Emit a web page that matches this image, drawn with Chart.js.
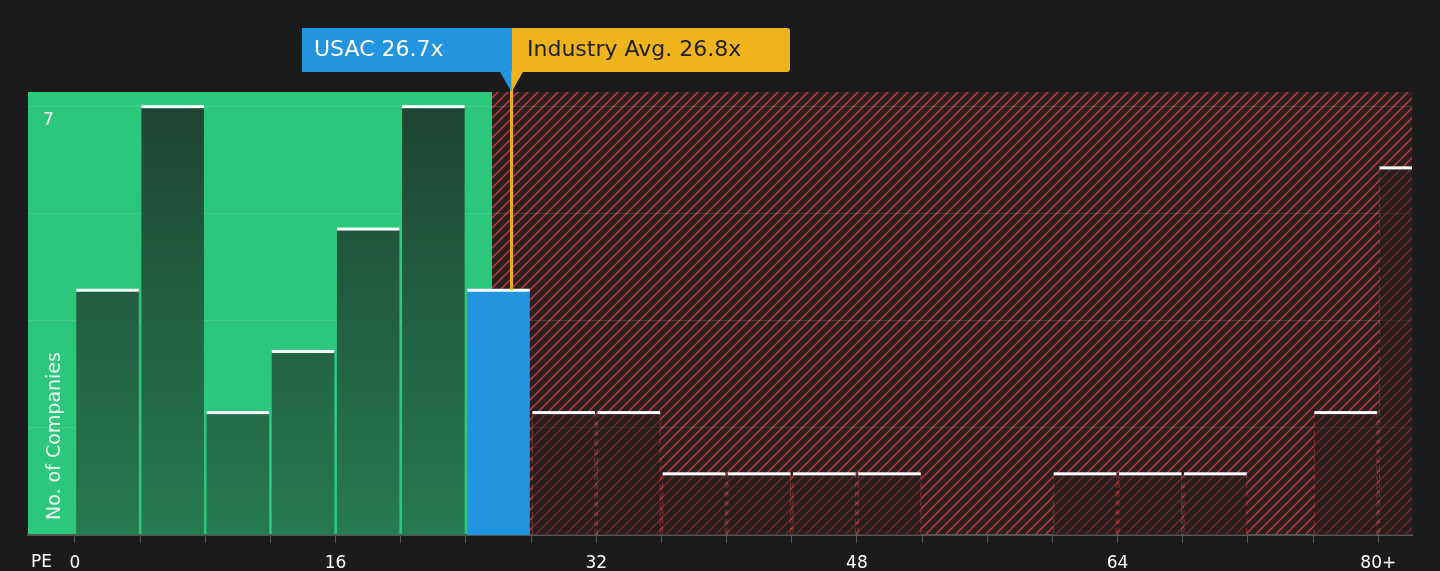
<!DOCTYPE html>
<html><head><meta charset="utf-8">
<script src="https://cdn.jsdelivr.net/npm/chart.js@4"></script>
<style>html,body{margin:0;background:#1b1b1b}#wrap{width:1440px;height:571px}</style>
</head><body><div id="wrap"><canvas id="c"></canvas></div>
<script>
// PE bins (bin centers) and company counts
const binCenters = [2, 6, 10, 14, 18, 22, 26, 30, 34, 38, 42, 46, 50, 54, 58, 62, 66, 70, 74, 78, 82];
const counts     = [4, 7, 2, 3, 5, 7, 4, 2, 2, 1, 1, 1, 1, 0, 0, 1, 1, 1, 0, 2, 6];
const companyPE = 26.7;
const industryPE = 26.8;
const fairEdge = 25.6;
const xTicks = [0, 16, 32, 48, 64, 80];

const ctx = document.getElementById('c').getContext('2d');

function hatch() {
    const p = document.createElement('canvas');
    p.width = 10; p.height = 10;
    const g = p.getContext('2d');
    g.fillStyle = '#2c1f20';
    g.fillRect(0, 0, 10, 10);
    g.strokeStyle = '#c43d40';
    g.lineWidth = 1.4;
    g.beginPath();
    g.moveTo(0, 10); g.lineTo(10, 0);
    g.moveTo(-5, 5); g.lineTo(5, -5);
    g.moveTo(5, 15); g.lineTo(15, 5);
    g.stroke();
    return ctx.createPattern(p, 'repeat');
}

const bgPlugin = {
    id: 'bg',
    beforeDraw(chart) {
        const { ctx, chartArea: a, scales: { x } } = chart;
        const edge = x.getPixelForValue(fairEdge);
        ctx.save();
        ctx.fillStyle = '#2dc77c';
        ctx.fillRect(a.left, a.top, edge - a.left, a.bottom - a.top);
        ctx.fillStyle = hatch();
        ctx.fillRect(edge, a.top, a.right - edge, a.bottom - a.top);
        ctx.restore();
    },
    afterDatasetsDraw(chart) {
        const { ctx, chartArea: a, scales: { x, y } } = chart;
        const meta = chart.getDatasetMeta(0);
        ctx.save();
        ctx.beginPath(); ctx.rect(a.left, 0, a.right - a.left, a.bottom); ctx.clip();
        meta.data.forEach((bar, i) => {
            const left = bar.x - bar.width / 2, right = bar.x + bar.width / 2;
            if (binCenters[i] > 26) {
                ctx.strokeStyle = 'rgba(200,60,60,0.6)';
                ctx.setLineDash([5, 4]);
                ctx.lineWidth = 1;
                [left, right].forEach(px => {
                    ctx.beginPath(); ctx.moveTo(px, bar.y); ctx.lineTo(px, a.bottom); ctx.stroke();
                });
                ctx.setLineDash([]);
            }
            if (counts[i] > 0) {
                ctx.fillStyle = '#ffffff';
                ctx.fillRect(left, bar.y - 1.5, bar.width, 3);
            }
        });
        ctx.restore();
        ctx.save();
        // industry line
        const ix = x.getPixelForValue(industryPE);
        ctx.strokeStyle = '#f0b01e';
        ctx.lineWidth = 3;
        ctx.beginPath(); ctx.moveTo(ix, 72); ctx.lineTo(ix, y.getPixelForValue(4)); ctx.stroke();
        // labels
        ctx.fillStyle = '#2394e0';
        ctx.fillRect(302, 28, ix - 302, 44);
        ctx.beginPath(); ctx.moveTo(ix - 12, 71); ctx.lineTo(ix, 71); ctx.lineTo(ix, 92); ctx.fill();
        ctx.fillStyle = '#efb31c';
        ctx.beginPath(); ctx.roundRect(ix, 28, 790 - ix, 44, [0, 3, 3, 0]); ctx.fill();
        ctx.beginPath(); ctx.moveTo(ix, 71); ctx.lineTo(ix + 12, 71); ctx.lineTo(ix, 92); ctx.fill();
        ctx.font = '22px "DejaVu Sans"';
        ctx.textBaseline = 'middle';
        ctx.fillStyle = '#ffffff';
        ctx.fillText('USAC ' + companyPE + 'x', 314, 50);
        ctx.fillStyle = '#222222';
        ctx.fillText('Industry Avg. ' + industryPE + 'x', 527, 50);
        // axis texts
        ctx.fillStyle = '#ffffff';
        ctx.font = '17px "DejaVu Sans"';
        ctx.fillText('7', 43, 121);
        ctx.fillText('PE', 31, 563);
        ctx.save();
        ctx.translate(55, 520);
        ctx.rotate(-Math.PI / 2);
        ctx.font = '19px "DejaVu Sans"';
        ctx.fillStyle = 'rgba(255,255,255,0.9)';
        ctx.fillText('No. of Companies', 0, 0);
        ctx.restore();
        ctx.restore();
    }
};

function barColor(c) {
    const i = c.dataIndex;
    const a = c.chart.chartArea;
    if (binCenters[i] === 26) return '#2394e0';
    if (binCenters[i] > 26) return 'rgba(40,30,30,0.55)';
    if (!a) return '#22503a';
    const g = c.chart.ctx.createLinearGradient(0, a.top, 0, a.bottom);
    g.addColorStop(0, '#1f4433');
    g.addColorStop(1, '#267a52');
    return g;
}

new Chart(ctx, {
    type: 'bar',
    data: {
        datasets: [{
            data: binCenters.map((v, i) => ({ x: v, y: counts[i] })),
            backgroundColor: barColor,
            barPercentage: 0.96,
            categoryPercentage: 1,
            borderWidth: 0
        }]
    },
    options: {
        responsive: true,
        maintainAspectRatio: false,
        animation: false,
        layout: { padding: { left: 28, right: 28, top: 92, bottom: 0 } },
        plugins: { legend: { display: false }, tooltip: { enabled: false } },
        scales: {
            x: {
                type: 'linear',
                offset: false,
                min: -2.88,
                max: 82.07,
                afterBuildTicks(s) { s.ticks = []; for (let v = 0; v <= 80; v += 4) s.ticks.push({ value: v }); },
                afterFit(s) { s.height = 36; },
                ticks: {
                    autoSkip: false, maxRotation: 0, color: '#ffffff', font: { size: 17, family: 'DejaVu Sans' }, padding: 10,
                    callback: v => v === 80 ? '80+' : (v % 16 === 0 ? v : '')
                },
                grid: { drawOnChartArea: false, color: '#555', tickLength: 8, offset: false },
                border: { color: '#555', width: 2 }
            },
            y: {
                min: 0,
                max: 7.24,
                afterBuildTicks(s) { s.ticks = [1.75, 3.5, 5.25, 7].map(v => ({ value: v })); },
                ticks: { display: false },
                grid: { color: 'rgba(255,255,255,0.12)', drawTicks: false },
                border: { display: false }
            }
        }
    },
    plugins: [bgPlugin]
});
</script></body></html>
